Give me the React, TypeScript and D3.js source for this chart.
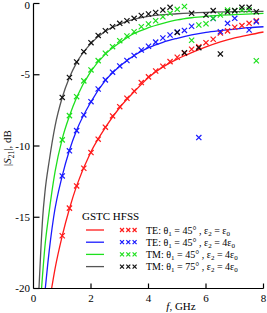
import React from 'react';
import * as d3 from 'd3';

// HFSS samples (crosses), 0.25 GHz steps
const hfssFreq = [1, 1.25, 1.5, 1.75, 2, 2.25, 2.5, 2.75, 3, 3.25, 3.5, 3.75, 4, 4.25, 4.5, 4.75, 5, 5.25, 5.5, 5.75, 6, 6.25, 6.5, 6.75, 7, 7.25, 7.5, 7.75];
const redHfss = [-16.3, -14.36, -12.8, -11.56, -10.46, -9.52, -8.68, -7.89, -7.24, -6.65, -6.14, -5.55, -5.15, -4.74, -4.4, -4.08, -3.77, -3.49, -3.21, -3.03, -2.75, -2.51, -2.07, -1.92, -1.67, -1.55, -1.39, -1.22];
const blueHfss = [-12.1, -10.34, -8.92, -7.82, -6.89, -6.0, -5.36, -4.82, -4.38, -4.0, -3.65, -3.26, -3.0, -2.71, -2.42, -2.21, -2.0, -1.89, -1.6, -9.41, null, -1.05, -1.98, -1.39, -1.04, null, -1.86, -1.28];
const greenHfss = [-9.57, -7.87, -6.54, -5.43, -4.66, -4.01, -3.49, -3.03, -2.61, -2.28, -1.98, -1.63, -1.44, -1.21, -0.93, -0.69, -0.41, -0.21, -2.58, -1.51, -1.42, -1.04, -0.81, -0.46, -0.51, -0.46, -0.46, -4.02];
const blackHfss = [-6.59, -5.19, -4.1, -3.38, -2.75, -2.24, -1.91, -1.63, -1.39, -1.21, -1.04, -0.84, -0.74, -0.63, -0.46, -0.27, -2.03, -3.45, -0.69, -3.1, -0.81, -0.5, -3.54, -0.58, -0.5, -0.27, -0.27, -0.58];

// GSTC curves (solid lines)
const redLineFreq = [0.63, 0.75, 1, 1.25, 1.5, 2, 2.5, 3, 3.5, 4, 4.5, 5, 5.5, 6, 6.5, 7, 7.5, 8];
const redLine = [-20, -18.6, -16.3, -14.4, -12.8, -10.4, -8.7, -7.3, -6.2, -5.2, -4.45, -3.9, -3.45, -3.05, -2.7, -2.42, -2.2, -2.0];
const blueLineFreq = [0.41, 0.5, 0.7, 1, 1.25, 1.5, 2, 2.5, 3, 3.5, 4, 4.5, 5, 5.5, 6, 6.5, 7, 7.5, 8];
const blueLine = [-20, -18.2, -15, -12.1, -10.3, -8.9, -6.9, -5.4, -4.4, -3.65, -3.1, -2.72, -2.44, -2.2, -2.02, -1.9, -1.8, -1.7, -1.63];
const greenLineFreq = [0.28, 0.4, 0.52, 0.75, 1, 1.25, 1.5, 2, 2.5, 3, 3.5, 4, 4.5, 5, 5.5, 6, 7, 8];
const greenLine = [-20, -17, -15, -11.8, -9.5, -7.9, -6.6, -4.75, -3.55, -2.75, -2.1, -1.7, -1.4, -1.15, -1.0, -0.9, -0.78, -0.69];
const blackLineFreq = [0.19, 0.25, 0.32, 0.4, 0.55, 0.75, 1, 1.25, 1.5, 2, 2.5, 3, 3.5, 4, 5, 6, 7, 8];
const blackLine = [-20, -17.5, -15, -13.2, -11, -8.6, -6.6, -5.2, -4.15, -2.8, -1.95, -1.45, -1.1, -0.9, -0.72, -0.62, -0.57, -0.55];

const xTicks = [2, 4, 6, 8];
const yTicks = [0, -5, -10, -15, -20];

const series = [
  { color: '#ff1a1a', lineColor: '#ff1a1a', f: redLineFreq, line: redLine, hfss: redHfss, mode: 'TE', th: '45', eps: '' },
  { color: '#1a1aff', lineColor: '#1a1aff', f: blueLineFreq, line: blueLine, hfss: blueHfss, mode: 'TE', th: '45', eps: '4' },
  { color: '#1ee01e', lineColor: '#1ee01e', f: greenLineFreq, line: greenLine, hfss: greenHfss, mode: 'TM', th: '45', eps: '4' },
  { color: '#111111', lineColor: '#555555', f: blackLineFreq, line: blackLine, hfss: blackHfss, mode: 'TM', th: '75', eps: '4' },
];

const font = '"Liberation Serif", "DejaVu Serif", serif';

const Cross = ({ cx, cy, color, s = 2.6 }: { cx: number; cy: number; color: string; s?: number }) => (
  <path d={`M${cx - s},${cy - s}L${cx + s},${cy + s}M${cx - s},${cy + s}L${cx + s},${cy - s}`}
    stroke={color} strokeWidth={1.2} fill="none" />
);

export default function App() {
  const x = d3.scaleLinear().domain([0, 8]).range([33.5, 263.5]);
  const y = d3.scaleLinear().domain([-20, 0]).range([288.5, 3.5]);
  const line = d3.line<[number, number]>()
    .x(d => x(d[0]))
    .y(d => y(d[1]))
    .curve(d3.curveMonotoneX);

  const legendX = 86;
  const legendY0 = 230;
  const legendDy = 12.2;

  return (
    <svg width={267} height={313} style={{ position: 'absolute', left: 0, top: 0, background: '#fff' }}
      fontFamily={font}>
      {/* curves */}
      {series.map((s, i) => (
        <path key={'l' + i} d={line(s.f.map((f, j) => [f, s.line[j]] as [number, number])) || ''}
          fill="none" stroke={s.lineColor} strokeWidth={1.3} />
      ))}
      {/* HFSS crosses */}
      {series.map((s, i) => (
        <g key={'c' + i}>
          {hfssFreq.map((f, j) => s.hfss[j] == null ? null : (
            <Cross key={j} cx={x(f)} cy={y(s.hfss[j] as number)} color={s.color} />
          ))}
        </g>
      ))}

      {/* axes */}
      <line x1={x(0)} x2={x(0)} y1={y(0)} y2={y(-20)} stroke="#000" strokeWidth={1.2} />
      <line x1={x(0)} x2={x(8)} y1={y(-20)} y2={y(-20)} stroke="#000" strokeWidth={1.2} />
      {yTicks.map(t => (
        <g key={'yt' + t}>
          <line x1={x(0)} x2={x(0) + 6} y1={y(t)} y2={y(t)} stroke="#000" strokeWidth={1.2} />
          <text x={30} y={Math.max(y(t) + 3.5, 9)} textAnchor="end" fontSize={11}>{t === 0 ? '0' : '-' + Math.abs(t)}</text>
        </g>
      ))}
      <text x={x(0)} y={302} textAnchor="middle" fontSize={11}>0</text>
      {xTicks.map(t => (
        <g key={'xt' + t}>
          <line x1={x(t)} x2={x(t)} y1={y(-20)} y2={y(-20) - 5} stroke="#000" strokeWidth={1.2} />
          <text x={x(t)} y={302} textAnchor="middle" fontSize={11}>{t}</text>
        </g>
      ))}
      <text x={181} y={310} textAnchor="middle" fontSize={11}>
        <tspan fontStyle="italic">f</tspan>, GHz
      </text>
      <text transform="translate(11,148) rotate(-90)" textAnchor="middle" fontSize={11}>
        |<tspan fontStyle="italic">S</tspan><tspan fontSize={7.5} dy={2.5}>21</tspan><tspan dy={-2.5}>|, dB</tspan>
      </text>

      {/* legend */}
      <text x={82} y={220} fontSize={11}>GSTC HFSS</text>
      {series.map((s, i) => {
        const ly = legendY0 + i * legendDy;
        return (
          <g key={'lg' + i}>
            <line x1={legendX} x2={legendX + 18} y1={ly} y2={ly} stroke={s.lineColor} strokeWidth={1.3} />
            {[0, 1, 2].map(k => (
              <Cross key={k} cx={122 + k * 6.3} cy={ly} color={s.color} s={2} />
            ))}
            <text x={146} y={ly + 3.5} fontSize={10}>
              {s.mode}: θ<tspan fontSize={7} dy={2}>1</tspan><tspan dy={-2}> = {s.th}° , ε</tspan>
              <tspan fontSize={7} dy={2}>2</tspan><tspan dy={-2}> = {s.eps}ε</tspan>
              <tspan fontSize={7} dy={2}>0</tspan>
            </text>
          </g>
        );
      })}
    </svg>
  );
}
